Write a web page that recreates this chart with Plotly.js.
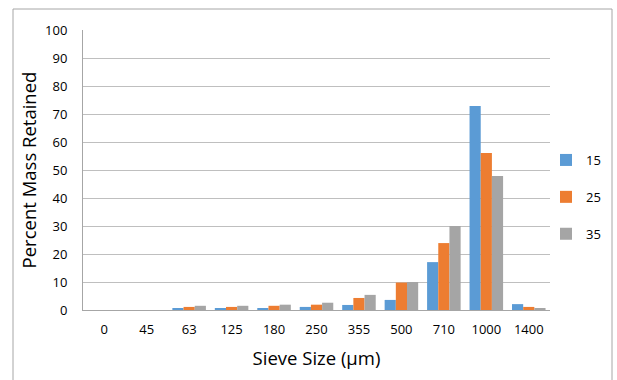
<!DOCTYPE html>
<html>
<head>
<meta charset="utf-8">
<script src="https://cdn.plot.ly/plotly-3.0.1.min.js"></script>
<style>
  html, body { margin: 0; padding: 0; background: #ffffff; }
  #chart { width: 617px; height: 380px; }
</style>
</head>
<body>
<div id="chart"></div>
<script>
var categories = ["0", "45", "63", "125", "180", "250", "355", "500", "710", "1000", "1400"];
var seriesNames = ["15", "25", "35"];
var values15 = [0, 0, 0.7, 0.7, 0.7, 1.1, 1.8, 3.6, 17.1, 72.9, 2.1];
var values25 = [0, 0, 1.1, 1.1, 1.5, 1.9, 4.3, 9.8, 23.9, 56.1, 1.1];
var values35 = [0, 0, 1.5, 1.5, 1.9, 2.6, 5.4, 10.0, 30.0, 47.9, 0.7];
var yTicks = [0, 10, 20, 30, 40, 50, 60, 70, 80, 90, 100];

var colors = ["#5B9BD5", "#ED7D31", "#A5A5A5"];
var allValues = [values15, values25, values35];

var traces = allValues.map(function (vals, i) {
  return {
    type: "bar",
    name: seriesNames[i],
    legendgroup: "g" + i,
    x: categories,
    y: vals,
    marker: { color: colors[i], line: { width: 0 } },
    hoverinfo: "x+y+name"
  };
});

var fontFam = "'Open Sans', Lato, sans-serif";

var layout = {
  width: 617,
  height: 380,
  paper_bgcolor: "#ffffff",
  plot_bgcolor: "#ffffff",
  margin: { l: 83, r: 67, t: 30, b: 70, pad: 0, autoexpand: false },
  barmode: "group",
  bargap: 0.21,
  bargroupgap: 0,
  font: { family: fontFam, color: "#000000", size: 13 },
  showlegend: true,
  legend: {
    xref: "container", yref: "container",
    x: 546 / 617, y: (380 - 197) / 380, xanchor: "left", yanchor: "middle",
    font: { family: fontFam, size: 13, color: "#000000" },
    itemwidth: 30,
    tracegroupgap: 17,
    bgcolor: "rgba(0,0,0,0)"
  },
  xaxis: {
    type: "category",
    categoryorder: "array",
    categoryarray: categories,
    showgrid: false,
    showline: true,
    linecolor: "#A6A6A6",
    linewidth: 1,
    ticks: "",
    ticklabelstandoff: 7,
    tickfont: { family: fontFam, size: 13, color: "#000000" },
    title: { text: "Sieve Size (µm)", font: { family: fontFam, size: 18.5, color: "#000000" }, standoff: 15 },
    zeroline: false,
    fixedrange: true
  },
  yaxis: {
    range: [0, 100],
    tickvals: yTicks,
    ticktext: yTicks.map(String),
    showgrid: true,
    gridcolor: "#BFBFBF",
    gridwidth: 1,
    showline: true,
    linecolor: "#A6A6A6",
    linewidth: 1,
    ticks: "",
    ticklabelstandoff: 12,
    tickfont: { family: fontFam, size: 13, color: "#000000" },
    title: { text: "Percent Mass Retained", font: { family: fontFam, size: 18.5, color: "#000000" }, standoff: 3 },
    zeroline: false,
    fixedrange: true
  },
  shapes: [
    {
      type: "rect", xref: "paper", yref: "paper",
      x0: (13 - 83) / 467, x1: (612 - 83) / 467,
      y0: -0.4, y1: (310 - 9) / 280,
      line: { color: "#A6A6A6", width: 1 },
      fillcolor: "rgba(0,0,0,0)",
      layer: "below"
    }
  ]
};

Plotly.newPlot("chart", traces, layout, { displayModeBar: false, staticPlot: false });
</script>
</body>
</html>
